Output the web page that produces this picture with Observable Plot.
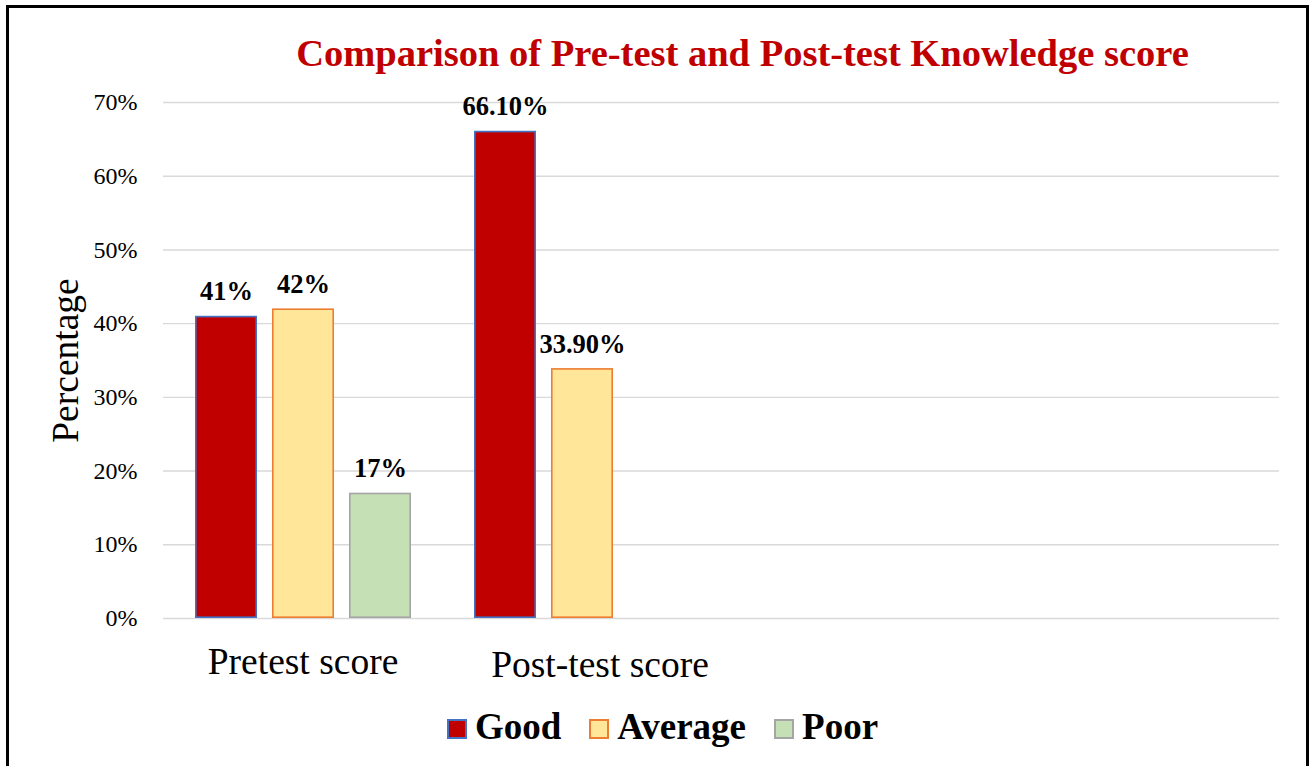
<!DOCTYPE html>
<html>
<head>
<meta charset="utf-8">
<script src="https://cdn.jsdelivr.net/npm/d3@7"></script>
<script src="https://cdn.jsdelivr.net/npm/@observablehq/plot@0.6"></script>
<style>
  html, body { margin: 0; padding: 0; background: #fff; }
  #page { position: relative; width: 1312px; height: 766px; overflow: hidden; background: #fff; font-family: "Liberation Serif", "Times New Roman", serif; }
  #frame { position: absolute; left: 6px; top: 5px; width: 1303px; height: 820px; border: 3px solid #000; box-sizing: border-box; }
  #title { position: absolute; left: 0; top: 34px; width: 1485px; text-align: center; font-weight: bold; font-size: 38.5px; line-height: 38px; color: #C00000; white-space: nowrap; }
  #chart { position: absolute; left: 0; top: 80px; }
  #legend { position: absolute; left: 0; top: 708px; width: 1325px; display: flex; justify-content: center; align-items: center; font-weight: bold; font-size: 37px; line-height: 38px; color: #000; }
  .item { display: flex; align-items: center; margin: 0 14px; }
  .sw { width: 20px; height: 20px; box-sizing: border-box; border: 2px solid; margin-right: 8px; margin-top: 4px; }
</style>
</head>
<body>
<div id="page">
  <div id="frame"></div>
  <div id="title"></div>
  <div id="chart"></div>
  <div id="legend"></div>
</div>
<script>
const titleText = "Comparison of Pre-test and Post-test Knowledge score";
const yLabel = "Percentage";
// four category slots on the x axis; the last two are empty in the original
const categories = ["Pretest score", "Post-test score", "", " "];
const levels = ["Good", "Average", "Poor"];
const pretestValues = [41, 42, 17];
const posttestValues = [66.1, 33.9, null];
const pretestLabels = ["41%", "42%", "17%"];
const posttestLabels = ["66.10%", "33.90%", null];
const yTicks = [0, 10, 20, 30, 40, 50, 60, 70];
const fills = ["#C00000", "#FFE699", "#C5E0B4"];
const strokes = ["#4472C4", "#ED7D31", "#A5A5A5"];

const rows = [];
levels.forEach((lv, i) => {
  if (pretestValues[i] != null) rows.push({cat: categories[0], level: lv, value: pretestValues[i], label: pretestLabels[i]});
  if (posttestValues[i] != null) rows.push({cat: categories[1], level: lv, value: posttestValues[i], label: posttestLabels[i]});
});
// gridlines for every category slot (so empty slots still show)
const gridRows = categories.flatMap(c => yTicks.map(t => ({cat: c, t})));

document.getElementById("title").textContent = titleText;

const chart = Plot.plot({
  width: 1312,
  height: 620,
  marginLeft: 163,
  marginRight: 33,
  marginTop: 22,
  marginBottom: 82,
  style: {fontFamily: "Liberation Serif, Times New Roman, serif", color: "#000", background: "transparent", overflow: "visible"},
  fx: {domain: categories, padding: 0, axis: null},
  x: {domain: levels, paddingInner: 0.195, paddingOuter: 0.409, axis: null},
  y: {domain: [0, 70], axis: null},
  marks: [
    Plot.ruleY(gridRows, {fx: "cat", y: "t", stroke: "#d9d9d9", strokeWidth: 1.4}),
    Plot.axisY({ticks: yTicks, tickFormat: d => d + "%", tickSize: 0, tickPadding: 26, fontSize: 24, label: null}),
    Plot.text([yLabel], {fx: () => categories[0], frameAnchor: "left", textAnchor: "middle", rotate: -90, dx: -98, fontSize: 37.5, lineAnchor: "middle", text: d => d}),
    Plot.axisFx({anchor: "bottom", ticks: [categories[0]], tickSize: 0, tickPadding: 29, fontSize: 37.5, label: null}),
    Plot.axisFx({anchor: "bottom", ticks: [categories[1]], tickSize: 0, tickPadding: 32, dx: 18, fontSize: 37.5, label: null}),
    ...levels.map((lv, i) => Plot.barY(rows.filter(r => r.level === lv), {
      fx: "cat", x: "level", y: "value", fill: fills[i], stroke: strokes[i], strokeWidth: 1.6, inset: 0.8
    })),
    Plot.text(rows, {fx: "cat", x: "level", y: "value", text: "label", lineAnchor: "bottom", dy: -16, fontSize: 26.5, fontWeight: "bold", fill: "#000"})
  ]
});
document.getElementById("chart").appendChild(chart);

const legend = document.getElementById("legend");
levels.forEach((lv, i) => {
  const item = document.createElement("div");
  item.className = "item";
  const sw = document.createElement("div");
  sw.className = "sw";
  sw.style.background = fills[i];
  sw.style.borderColor = strokes[i];
  const t = document.createElement("span");
  t.textContent = lv;
  item.appendChild(sw);
  item.appendChild(t);
  legend.appendChild(item);
});
</script>
</body>
</html>
